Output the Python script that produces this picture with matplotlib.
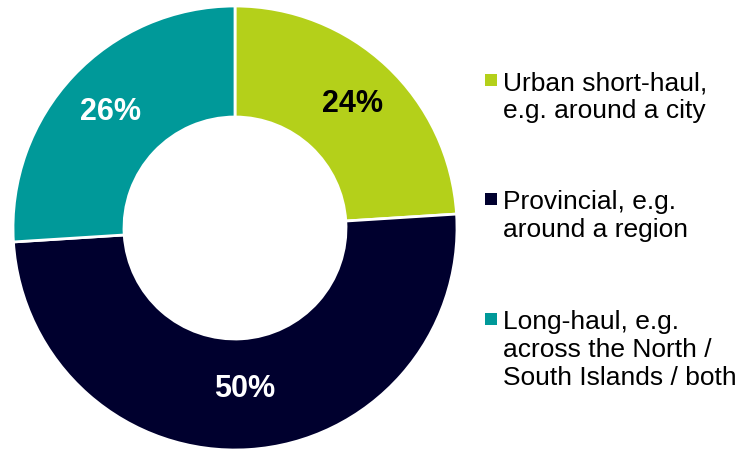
import matplotlib
matplotlib.use("Agg")
import matplotlib.pyplot as plt
from matplotlib.patches import Rectangle

plt.rcParams['font.family'] = ['Liberation Sans', 'DejaVu Sans']

labels = ["Urban short-haul,\ne.g. around a city",
          "Provincial, e.g.\naround a region",
          "Long-haul, e.g.\nacross the North /\nSouth Islands / both"]
shares = [24, 50, 26]
colors = ['#b4d01a', '#00002e', '#009999']
pct_colors = ['black', 'white', 'white']
pct_dist = [0.77, 0.72, 0.77]

W, H = 737, 452
fig = plt.figure(figsize=(W / 100, H / 100), dpi=100)

# donut occupies a square box on the left
cx, cy, R = 235, 229, 222
ax = fig.add_axes([(cx - R) / W, (H - cy - R) / H, 2 * R / W, 2 * R / H])
wedges, texts, autotexts = ax.pie(shares, colors=colors, startangle=90, counterclock=False,
                                  autopct='%d%%', pctdistance=1.0,
                                  wedgeprops=dict(width=0.5, edgecolor='white', linewidth=2))
for t, c, d in zip(autotexts, pct_colors, pct_dist):
    x, y = t.get_position()
    t.set_position((x * d, y * d))
    t.set_color(c)
    t.set_fontsize(22)
    t.set_fontweight('bold')
ax.set_xlim(-1, 1)
ax.set_ylim(-1, 1)
ax.set_aspect('equal')
ax.axis('off')

# legend on the right, square marker next to the first line of each entry
marker_mid = [81, 200, 320]
for lab, col, y in zip(labels, colors, marker_mid):
    fig.patches.append(Rectangle((485 / W, (H - y - 6) / H), 12 / W, 12 / H,
                                 transform=fig.transFigure, facecolor=col, edgecolor='none'))
    fig.text(503 / W, (H - y + 10) / H, lab, fontsize=19, ha='left', va='top',
             linespacing=1.22)

fig.savefig('out.png', dpi=100)
